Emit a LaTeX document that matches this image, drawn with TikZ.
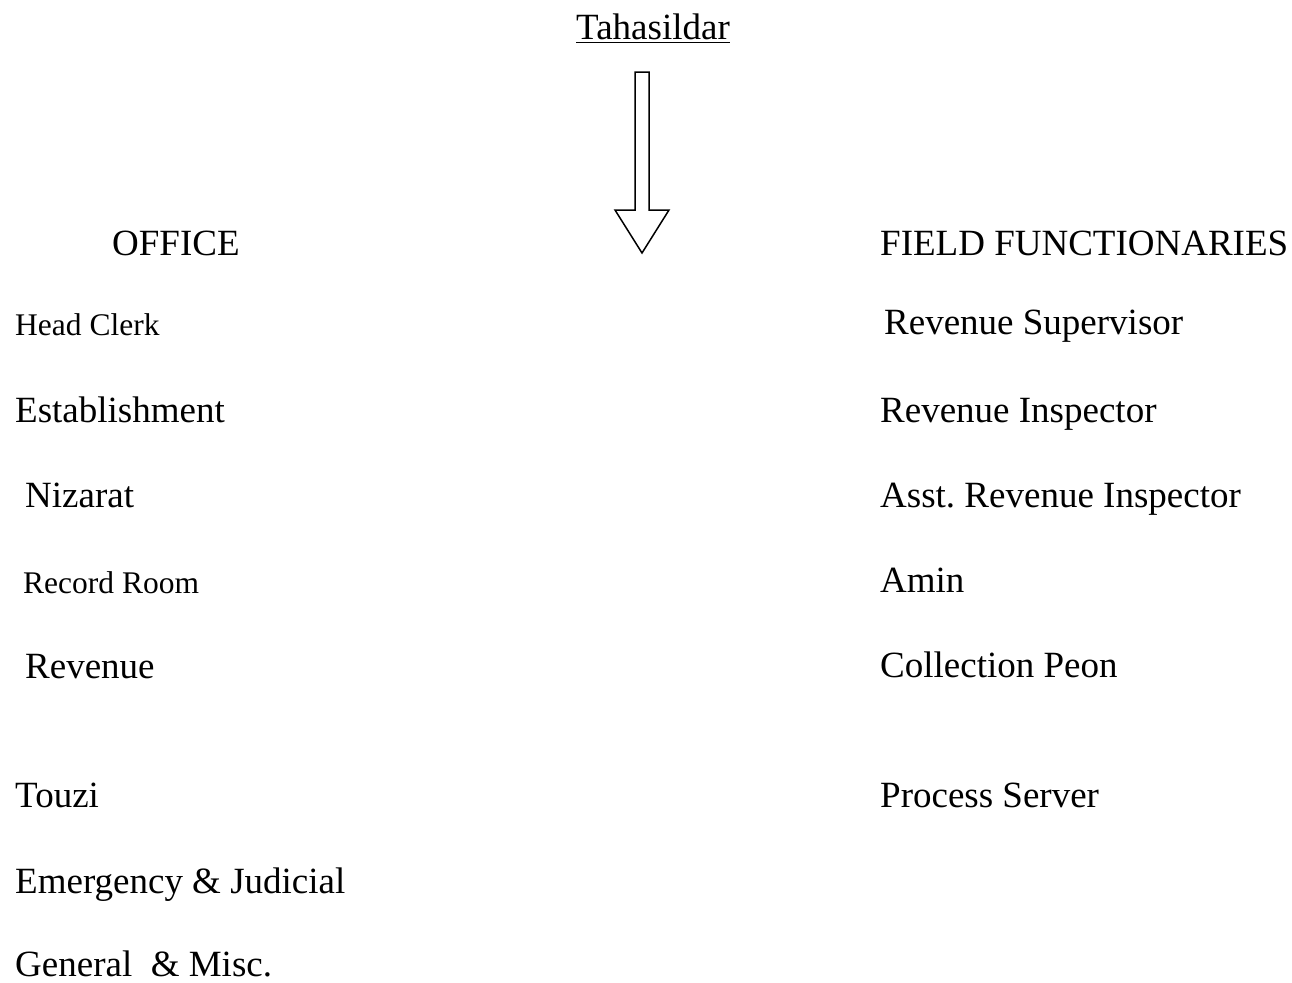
\documentclass[tikz,border=0pt]{standalone}
\usepackage{fontspec}
\setmainfont{Liberation Serif}
\usepackage{tikz}
\usetikzlibrary{positioning}
\frenchspacing

\begin{document}
\begin{tikzpicture}[
    x=1pt, y=-1pt,
    every node/.style={
        inner sep=0pt,
        anchor=base west
    },
    unit/.style={font=\fontsize{37}{40}\selectfont},
    smallunit/.style={font=\fontsize{31.5}{34}\selectfont},
    blockarrow/.style={draw, line width=1.5pt, fill=white, line join=miter}
]
\useasboundingbox (0,0) rectangle (1292,982);

% top of the chart
\node[unit, anchor=base] (tah) at (653,40) {\underline{Tahasildar}};

\draw[blockarrow] (635,72) -- (649,72) -- (649,210) -- (669,210)
    -- (642,253) -- (615,210) -- (635,210) -- cycle;

% office side
\node[unit] (office) at (112,255) {OFFICE};
\node[smallunit] (head) at (15,335) {Head Clerk};
\node[unit] (estb) at (15,422) {Establishment};
\node[unit] (niz) at (25,507) {Nizarat};
\node[smallunit] (rec) at (23,593) {Record Room};
\node[unit] (rev) at (25,678) {Revenue};
\node[unit] (touzi) at (15,807) {Touzi};
\node[unit] (emer) at (15,893) {Emergency \& Judicial};
\node[unit] (gen) at (15,976) {General\ \ \& Misc.};

% field side
\node[unit] (field) at (880,255) {FIELD FUNCTIONARIES};
\node[unit] (rs) at (884,334) {Revenue Supervisor};
\node[unit] (ri) at (880,422) {Revenue Inspector};
\node[unit] (ari) at (880,507) {Asst. Revenue Inspector};
\node[unit] (amin) at (880,592) {Amin};
\node[unit] (peon) at (880,677) {Collection Peon};
\node[unit] (proc) at (880,807) {Process Server};
\end{tikzpicture}
\end{document}
